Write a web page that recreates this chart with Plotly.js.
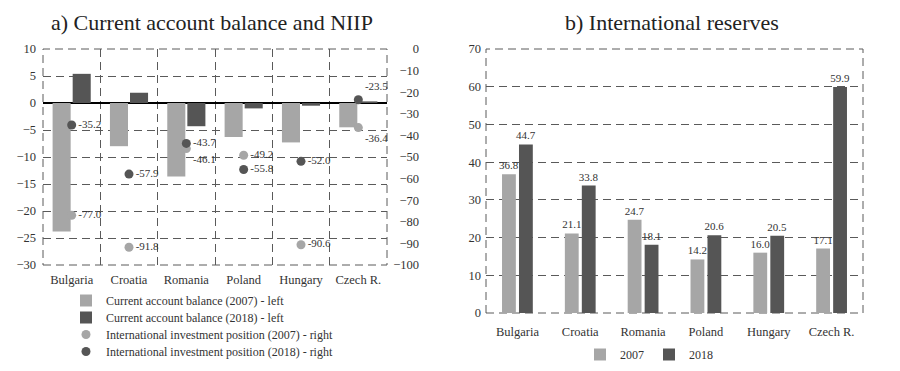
<!DOCTYPE html>
<html>
<head>
<meta charset="utf-8">
<script src="https://cdn.plot.ly/plotly-3.0.1.min.js"></script>
<style>html,body{margin:0;padding:0;background:#fff;}#chart{width:900px;height:371px;}</style>
</head>
<body>
<div id="chart"></div>
<script>
// ---- Data ----
var countries = ["Bulgaria", "Croatia", "Romania", "Poland", "Hungary", "Czech R."];
// Panel a) current account balance (% of GDP, left axis)
var ca2007 = [-23.8, -8.0, -13.6, -6.3, -7.3, -4.5];
var ca2018 = [5.4, 1.9, -4.3, -1.0, -0.5, 0.3];
// Panel a) net international investment position (% of GDP, right axis)
var niip2007 = [-77.0, -91.8, -46.1, -49.2, -90.6, -36.4];
var niip2018 = [-35.2, -57.9, -43.7, -55.8, -52.0, -23.5];
// Panel b) international reserves
var res2007 = [36.8, 21.1, 24.7, 14.2, 16.0, 17.1];
var res2018 = [44.7, 33.8, 18.1, 20.6, 20.5, 59.9];

var LIGHT = "#a6a6a6", DARK = "#555555", TXT = "#333333";
var FONT = "'Liberation Serif', 'Times New Roman', 'DejaVu Serif', serif";
var GRID = "#5a5a5a", DASH = "8px,5px";

function fmt(v){ return v.toFixed(1); }

var pos2007 = ["middle right","middle right","bottom right","middle right","middle right","bottom right"];
var pos2018 = ["middle right","middle right","middle right","middle right","middle right","top right"];

var traces = [
  {type:"bar", name:"Current account balance (2007) - left", x:countries, y:ca2007,
   marker:{color:LIGHT}, xaxis:"x", yaxis:"y", legend:"legend", hoverinfo:"skip"},
  {type:"bar", name:"Current account balance (2018) - left", x:countries, y:ca2018,
   marker:{color:DARK}, xaxis:"x", yaxis:"y", legend:"legend2", hoverinfo:"skip"},
  {type:"scatter", mode:"markers+text", name:"International investment position (2007) - right",
   x:countries, y:niip2007, text:niip2007.map(fmt), textposition:pos2007,
   textfont:{family:FONT, size:11, color:TXT},
   marker:{color:LIGHT, size:9}, xaxis:"x", yaxis:"y2", legend:"legend3", cliponaxis:false, hoverinfo:"skip"},
  {type:"scatter", mode:"markers+text", name:"International investment position (2018) - right",
   x:countries, y:niip2018, text:niip2018.map(fmt), textposition:pos2018,
   textfont:{family:FONT, size:11, color:TXT},
   marker:{color:DARK, size:9}, xaxis:"x", yaxis:"y2", legend:"legend4", cliponaxis:false, hoverinfo:"skip"},
  {type:"bar", name:"2007", x:countries, y:res2007, text:res2007.map(fmt), textposition:"outside",
   constraintext:"none", textfont:{family:FONT, size:11, color:TXT}, cliponaxis:false,
   offset:-0.245, width:0.22,
   marker:{color:LIGHT}, xaxis:"x3", yaxis:"y3", legend:"legend5", hoverinfo:"skip"},
  {type:"bar", name:"2018", x:countries, y:res2018, text:res2018.map(fmt), textposition:"outside",
   constraintext:"none", textfont:{family:FONT, size:11, color:TXT}, cliponaxis:false,
   offset:0.025, width:0.22,
   marker:{color:DARK}, xaxis:"x3", yaxis:"y3", legend:"legend5", hoverinfo:"skip"}
];

var tickfont = {family:FONT, size:12.5, color:TXT};
var legFont = {family:FONT, size:12, color:TXT};
function legAt(centerY){
  return {x:66/900, y:1-(centerY-13)/371, xanchor:"left", yanchor:"top", orientation:"v",
          font:legFont, bgcolor:"rgba(0,0,0,0)", itemwidth:30};
}

var layout = {
  width:900, height:371,
  margin:{l:0, r:0, t:0, b:0},
  paper_bgcolor:"#fff", plot_bgcolor:"#fff",
  font:{family:FONT, color:TXT},
  barmode:"group",
  bargap:0.3, bargroupgap:0.1,
  showlegend:true,
  xaxis:{domain:[43/900, 387/900], anchor:"y", type:"category", tickson:"boundaries",
         showgrid:true, gridcolor:GRID, griddash:DASH, gridwidth:1, ticks:"", tickfont:tickfont,
         showline:false, zeroline:false, ticklabelstandoff:5},
  yaxis:{domain:[1-265/371, 1-49/371], anchor:"x", range:[-30,10], dtick:5, tickfont:tickfont,
         showgrid:true, gridcolor:GRID, griddash:DASH, gridwidth:1,
         zeroline:true, zerolinecolor:"#000", zerolinewidth:2.5, ticks:"", ticklabelstandoff:6},
  yaxis2:{overlaying:"y", side:"left", anchor:"free", position:419/900, range:[-100,0], dtick:10,
          tickfont:tickfont, showgrid:false, zeroline:false, ticks:"", ticklabelstandoff:0},
  xaxis3:{domain:[486/900, 863/900], anchor:"y3", type:"category", showgrid:false, ticks:"",
          tickfont:tickfont, zeroline:false, ticklabelstandoff:9},
  yaxis3:{domain:[1-313/371, 1-49/371], anchor:"x3", range:[0,70], dtick:10, tickfont:tickfont,
          showgrid:true, gridcolor:GRID, griddash:DASH, gridwidth:1, zeroline:false,
          ticks:"inside", ticklen:4, tickcolor:GRID, ticklabelstandoff:4},
  legend:legAt(299),
  legend2:legAt(316),
  legend3:legAt(333),
  legend4:legAt(350),
  legend5:{x:580/900, y:1-340/371, xanchor:"left", yanchor:"top", orientation:"h",
           font:legFont, bgcolor:"rgba(0,0,0,0)", itemwidth:30},
  shapes:[
    {type:"rect", xref:"x domain", yref:"y domain", x0:0, x1:1, y0:0, y1:1,
     line:{color:GRID, width:1, dash:DASH}, layer:"below"},
    {type:"rect", xref:"x3 domain", yref:"y3 domain", x0:0, x1:1, y0:0, y1:1,
     line:{color:GRID, width:1, dash:DASH}, layer:"below"}
  ],
  annotations:[
    {text:"a) Current account balance and NIIP", xref:"paper", yref:"paper",
     x:212/900, y:1-22/371, xanchor:"center", yanchor:"middle", showarrow:false,
     font:{family:FONT, size:22, color:"#222"}},
    {text:"b) International reserves", xref:"paper", yref:"paper",
     x:672/900, y:1-22/371, xanchor:"center", yanchor:"middle", showarrow:false,
     font:{family:FONT, size:22, color:"#222"}}
  ]
};

Plotly.newPlot("chart", traces, layout, {staticPlot:true, displayModeBar:false});
</script>
</body>
</html>
